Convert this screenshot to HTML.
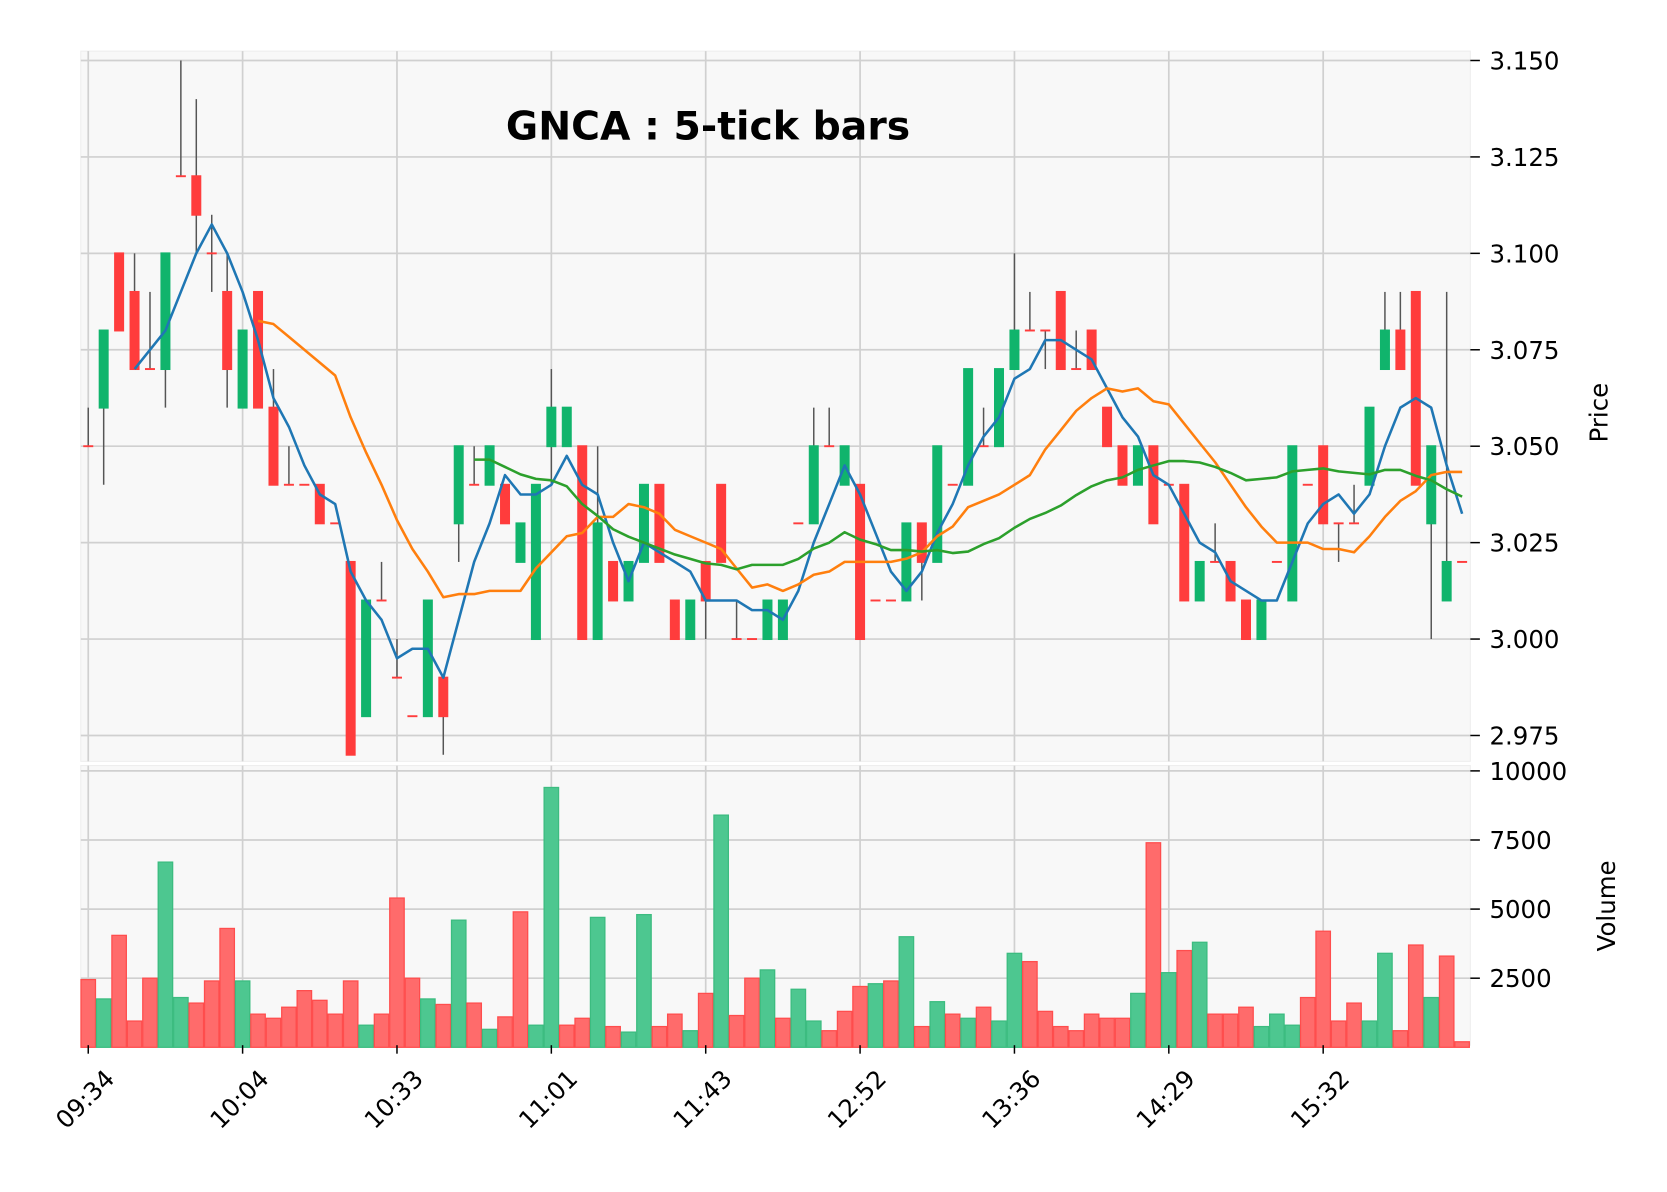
<!DOCTYPE html>
<html><head><meta charset="utf-8">
<style>
html,body{margin:0;padding:0;background:#fff;}
svg{display:block;}
text{font-family:"DejaVu Sans","Liberation Sans",sans-serif;fill:#000;}
</style></head>
<body>
<svg id="chart" width="1667" height="1192" viewBox="0 0 1568 1121" xmlns="http://www.w3.org/2000/svg">
<rect x="0" y="0" width="1568" height="1121" fill="#fff"/>
<rect x="76" y="48" width="1307" height="668" fill="#f8f8f8" stroke="#eeeeee"/>
<rect x="76" y="720" width="1307" height="263" fill="#f8f8f8" stroke="#eeeeee"/>
<g id="grid"></g>
<g id="vol"></g>
<g id="candles"></g>
<g id="mas"></g>
<g id="axes"></g>
<text x="666" y="131" font-size="37" font-weight="bold" text-anchor="middle">GNCA : 5-tick bars</text>
<text transform="translate(1512,388) rotate(-90)" font-size="23" text-anchor="middle">Price</text>
<text transform="translate(1519,852) rotate(-90)" font-size="23" text-anchor="middle">Volume</text>
</svg>
<script>
const opens  = [3.05,3.06,3.10,3.09,3.07,3.07,3.12,3.12,3.10,3.09,3.06,3.09,3.06,3.04,3.04,3.04,3.03,3.02,2.98,3.01,2.99,2.98,2.98,2.99,3.03,3.04,3.04,3.04,3.02,3.00,3.05,3.05,3.05,3.00,3.02,3.01,3.02,3.04,3.01,3.00,3.02,3.04,3.00,3.00,3.00,3.00,3.03,3.03,3.05,3.04,3.04,3.01,3.01,3.01,3.03,3.02,3.04,3.04,3.05,3.05,3.07,3.08,3.08,3.09,3.07,3.08,3.06,3.05,3.04,3.05,3.04,3.04,3.01,3.02,3.02,3.01,3.00,3.02,3.01,3.04,3.05,3.03,3.03,3.04,3.07,3.08,3.09,3.03,3.01,3.02];
const highs  = [3.06,3.08,3.10,3.10,3.09,3.10,3.15,3.14,3.11,3.10,3.08,3.09,3.07,3.05,3.04,3.04,3.03,3.02,3.01,3.02,3.00,2.98,3.01,2.99,3.05,3.05,3.05,3.04,3.03,3.04,3.07,3.06,3.05,3.05,3.02,3.02,3.04,3.04,3.01,3.01,3.02,3.04,3.01,3.00,3.01,3.01,3.03,3.06,3.06,3.05,3.04,3.01,3.01,3.03,3.03,3.05,3.04,3.07,3.06,3.07,3.10,3.09,3.08,3.09,3.08,3.08,3.06,3.05,3.05,3.05,3.04,3.04,3.02,3.03,3.02,3.01,3.01,3.02,3.05,3.04,3.05,3.03,3.04,3.06,3.09,3.09,3.09,3.05,3.09,3.02];
const lows   = [3.05,3.04,3.08,3.07,3.07,3.06,3.12,3.10,3.09,3.06,3.06,3.06,3.04,3.04,3.04,3.03,3.03,2.97,2.98,3.01,2.99,2.98,2.98,2.97,3.02,3.04,3.04,3.03,3.02,3.00,3.04,3.05,3.00,3.00,3.01,3.01,3.02,3.02,3.00,3.00,3.00,3.02,3.00,3.00,3.00,3.00,3.03,3.03,3.05,3.04,3.00,3.01,3.01,3.01,3.01,3.02,3.04,3.04,3.05,3.05,3.07,3.08,3.07,3.07,3.07,3.07,3.05,3.04,3.04,3.03,3.04,3.01,3.01,3.02,3.01,3.00,3.00,3.02,3.01,3.04,3.03,3.02,3.03,3.04,3.07,3.07,3.04,3.00,3.01,3.02];
const closes = [3.05,3.08,3.08,3.07,3.07,3.10,3.12,3.11,3.10,3.07,3.08,3.06,3.04,3.04,3.04,3.03,3.03,2.97,3.01,3.01,2.99,2.98,3.01,2.98,3.05,3.04,3.05,3.03,3.03,3.04,3.06,3.06,3.00,3.03,3.01,3.02,3.04,3.02,3.00,3.01,3.01,3.02,3.00,3.00,3.01,3.01,3.03,3.05,3.05,3.05,3.00,3.01,3.01,3.03,3.02,3.05,3.04,3.07,3.05,3.07,3.08,3.08,3.08,3.07,3.07,3.07,3.05,3.04,3.05,3.03,3.04,3.01,3.02,3.02,3.01,3.00,3.01,3.02,3.05,3.04,3.03,3.03,3.03,3.06,3.08,3.07,3.04,3.05,3.02,3.02];
const volumes = [2450,1750,4050,950,2500,6700,1800,1600,2400,4300,2400,1200,1050,1450,2050,1700,1200,2400,800,1200,5400,2500,1750,1550,4600,1600,650,1100,4900,800,9400,800,1050,4700,750,550,4800,750,1200,600,1950,8400,1150,2500,2800,1050,2100,950,600,1300,2200,2300,2400,4000,750,1650,1200,1050,1450,950,3400,3100,1300,750,600,1200,1050,1050,1950,7400,2700,3500,3800,1200,1200,1450,750,1200,800,1800,4200,950,1600,950,3400,600,3700,1800,3300,200];
const xTickLabels = ["09:34","10:04","10:33","11:01","11:43","12:52","13:36","14:29","15:32"];
const priceTicks = [2.975,3.000,3.025,3.050,3.075,3.100,3.125,3.150];
const volTicks = [2500,5000,7500,10000];
const maPeriods = [4,12,26];
const maColors = ["#1f77b4","#ff7f0e","#2ca02c"];

const NS="http://www.w3.org/2000/svg";
const X0=83, DX=14.52;
const xs = i => X0 + i*DX;
const yP = p => 601 - (p-3.0)*3628;
const yV = v => 985 - v*0.026;
function mk(tag, attrs, parent){const e=document.createElementNS(NS,tag);for(const k in attrs)e.setAttribute(k,attrs[k]);parent.appendChild(e);return e;}
const G=id=>document.getElementById(id);
const grid=G('grid'), vol=G('vol'), cand=G('candles'), mas=G('mas'), axes=G('axes');

xTickLabels.forEach((lab,k)=>{
  const x=xs(k*10);
  let l=mk('line',{x1:x,x2:x,y1:48,y2:716,stroke:'#d0d0d0','stroke-width':1.6},grid);
  
  
  l=mk('line',{x1:x,x2:x,y1:720,y2:983,stroke:'#d0d0d0','stroke-width':1.6},grid);
  
  
  const t=mk('line',{x1:x,x2:x,y1:983,y2:991,stroke:'#000','stroke-width':1.4},axes);
  
  
  const tx=mk('text',{transform:`translate(${x+26},${1016}) rotate(-45)`,'font-size':23,'text-anchor':'end'},axes);
  tx.textContent=lab;
  
  
});
priceTicks.forEach(p=>{
  const y=yP(p);
  let l=mk('line',{x1:76,x2:1383,y1:y,y2:y,stroke:'#d0d0d0','stroke-width':1.6},grid);
  
  
  const t=mk('line',{x1:1383,x2:1392,y1:y,y2:y,stroke:'#000','stroke-width':1.4},axes);
  
  
  const tx=mk('text',{x:1401,y:y+8.5,'font-size':23},axes);
  tx.textContent=p.toFixed(3);
  
  
});
volTicks.forEach(v=>{
  const y=yV(v);
  let l=mk('line',{x1:76,x2:1383,y1:y,y2:y,stroke:'#d0d0d0','stroke-width':1.6},grid);
  
  
  const t=mk('line',{x1:1383,x2:1392,y1:y,y2:y,stroke:'#000','stroke-width':1.4},axes);
  
  
  const tx=mk('text',{x:1401,y:y+8.5,'font-size':23},axes);
  tx.textContent=String(v);
  
  
});

volumes.forEach((v,i)=>{
  const up = i>0 && closes[i]>closes[i-1];
  const y=yV(v);
  const r=mk('rect',{x:xs(i)-6.8,y:y,width:13.6,height:985-y,fill:up?'#4dc790':'#ff6b6b',stroke:up?'#3cbc80':'#ff4d4d','stroke-width':1.2},vol);
  
  
});

opens.forEach((o,i)=>{
  const c=closes[i], up=c>o, x=xs(i);
  const col = up?'#10b46c':'#ff3c3c';
  const w=mk('line',{x1:x,x2:x,y1:yP(highs[i]),y2:yP(lows[i]),stroke:'#555','stroke-width':1.4},cand);
  
  
  const top=yP(Math.max(o,c)), bot=yP(Math.min(o,c));
  const b=mk('rect',{x:x-4.4,y:top-0.6,width:8.8,height:Math.max(bot-top,0)+1.2,fill:col,stroke:col,'stroke-width':0.6},cand);
  
  
});

maPeriods.forEach((n,k)=>{
  const pts=[];
  for(let i=n-1;i<closes.length;i++){
    let s=0;for(let j=i-n+1;j<=i;j++)s+=closes[j];
    pts.push(xs(i).toFixed(1)+','+yP(s/n).toFixed(1));
  }
  const pl=mk('polyline',{points:pts.join(' '),fill:'none',stroke:maColors[k],'stroke-width':2.4,'stroke-linejoin':'round'},mas);
  
  
});
</script>
</body></html>
